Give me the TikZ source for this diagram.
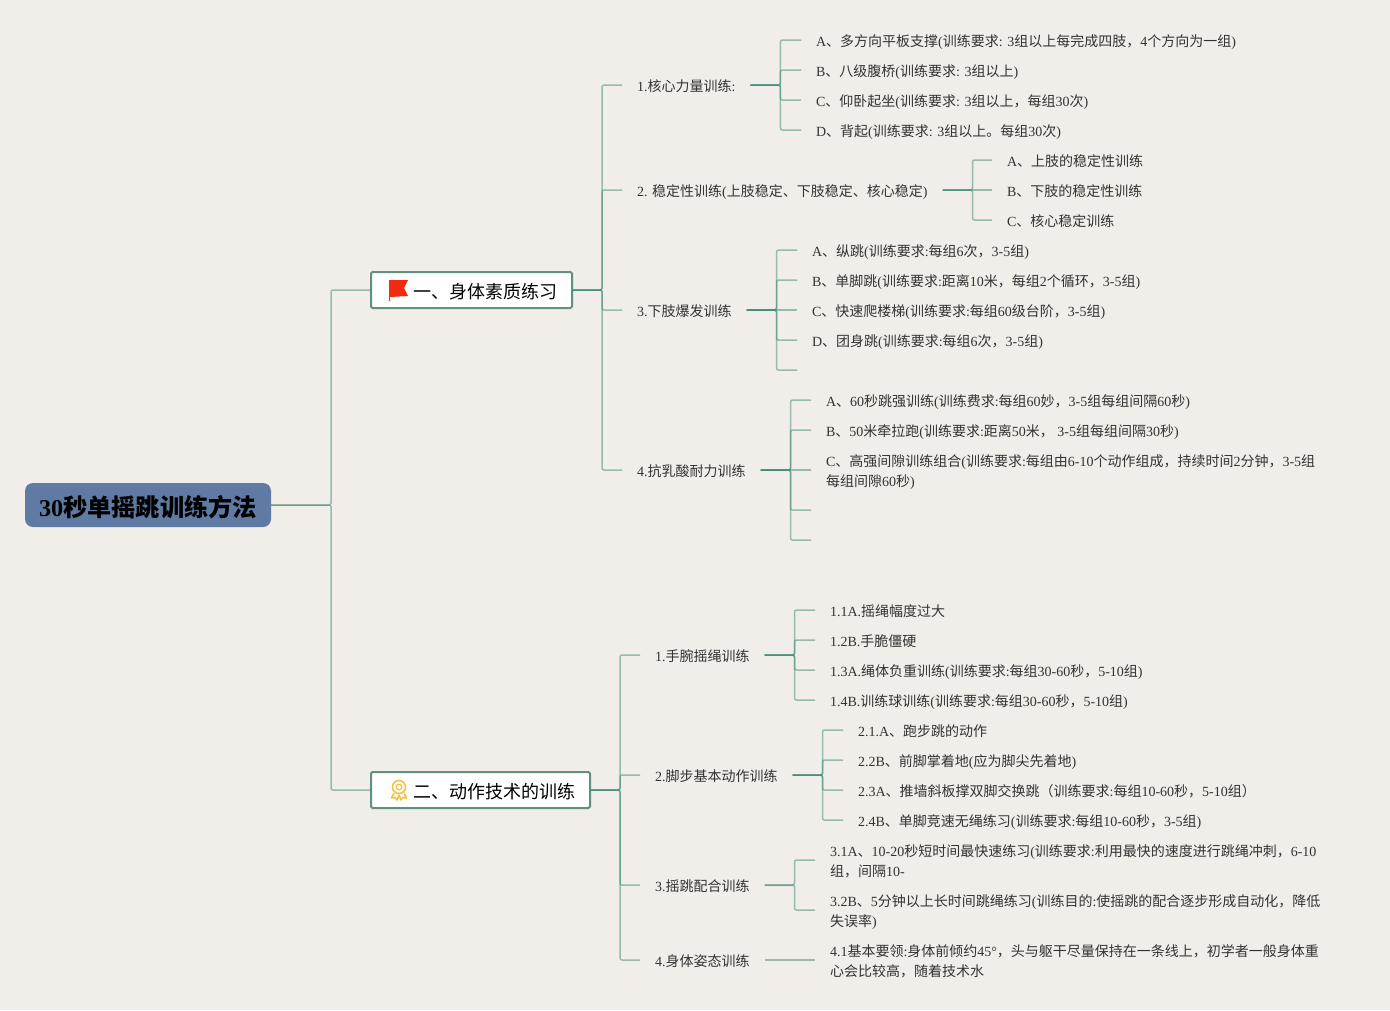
\documentclass[tikz,border=0pt]{standalone}
\usepackage{fontspec}
\setmainfont{Liberation Serif}
\newfontfamily\cjkfont{Noto Sans CJK SC}
\definecolor{paper}{HTML}{F1EDE8}
\definecolor{teal}{HTML}{3F8A6F}
\definecolor{boxline}{HTML}{5F9080}
\definecolor{rootblue}{HTML}{5F7AA3}
\definecolor{inkgray}{HTML}{333333}
\definecolor{flagred}{HTML}{F02B0F}
\definecolor{medal}{HTML}{F5C242}
\newXeTeXintercharclass\cjkclass
\newcount\cjkchar
\cjkchar="3000 \loop\ifnum\cjkchar<"3040 \XeTeXcharclass\cjkchar=\cjkclass \advance\cjkchar 1 \repeat
\cjkchar="4E00 \loop\ifnum\cjkchar<"A000 \XeTeXcharclass\cjkchar=\cjkclass \advance\cjkchar 1 \repeat
\cjkchar="FF00 \loop\ifnum\cjkchar<"FFF0 \XeTeXcharclass\cjkchar=\cjkclass \advance\cjkchar 1 \repeat
\XeTeXinterchartokenstate=1
\XeTeXinterchartoks 0 \cjkclass={\cjkfont}
\XeTeXinterchartoks 4095 \cjkclass={\cjkfont}
\XeTeXinterchartoks \cjkclass 0={\rmfamily}
\XeTeXinterchartoks \cjkclass 4095={\rmfamily}
\XeTeXinterchartoks 4095 0={\rmfamily}
\begin{document}
\begin{tikzpicture}[x=1pt,y=-1pt,
stem/.style={draw=teal,draw opacity=0.5,line width=1.5pt,rounded corners=2pt},
rootnode/.style={fill=rootblue,rounded corners=8pt,minimum width=246pt,minimum height=44pt,inner sep=0pt,outer sep=0pt,text height=25pt,text depth=2pt,font=\fontsize{24.2}{28}\selectfont\bfseries,anchor=west},
topicbox/.style={draw=boxline,fill=white,line width=2pt,rounded corners=1.5pt,minimum height=36pt,inner xsep=15pt,inner ysep=0pt,outer sep=0pt,text height=18pt,text depth=2pt,align=right,anchor=west,text=black,font=\fontsize{18}{22}\selectfont},
lbl/.style={anchor=west,inner xsep=15pt,inner ysep=0pt,outer sep=0pt,text=inkgray,font=\fontsize{14}{20}\selectfont},
leaf/.style={lbl,text height=15pt,text depth=2pt},
leafwrap/.style={lbl,align=left,text height=35pt,text depth=2pt}]
\fill[paper] (0,0) rectangle (1390,1010);
\useasboundingbox (0,0) rectangle (1390,1010);
\node[rootnode] (root) at (25,505) {30秒单摇跳训练方法};
\node[topicbox,text width=171pt] (t1) at (371,290) {一、身体素质练习};
\node[topicbox,text width=189pt] (t2) at (371,790) {二、动作技术的训练};
\node[leaf] (s1) at (622,85) {1.核心力量训练:};
\node[leaf] (s2) at (622,190) {2. 稳定性训练(上肢稳定、下肢稳定、核心稳定)};
\node[leaf] (s3) at (622,310) {3.下肢爆发训练};
\node[leaf] (s4) at (622,470) {4.抗乳酸耐力训练};
\node[leaf] (s5) at (640,655) {1.手腕摇绳训练};
\node[leaf] (s6) at (640,775) {2.脚步基本动作训练};
\node[leaf] (s7) at (640,885) {3.摇跳配合训练};
\node[leaf] (s8) at (640,960) {4.身体姿态训练};
\node[leaf] (s1a) at (801,40) {A、多方向平板支撑(训练要求: 3组以上每完成四肢，4个方向为一组)};
\node[leaf] (s1b) at (801,70) {B、八级腹桥(训练要求: 3组以上)};
\node[leaf] (s1c) at (801,100) {C、仰卧起坐(训练要求: 3组以上，每组30次)};
\node[leaf] (s1d) at (801,130) {D、背起(训练要求: 3组以上。每组30次)};
\node[leaf] (s2a) at (992,160) {A、上肢的稳定性训练};
\node[leaf] (s2b) at (992,190) {B、下肢的稳定性训练};
\node[leaf] (s2c) at (992,220) {C、核心稳定训练};
\node[leaf] (s3a) at (797,250) {A、纵跳(训练要求:每组6次，3-5组)};
\node[leaf] (s3b) at (797,280) {B、单脚跳(训练要求:距离10米，每组2个循环，3-5组)};
\node[leaf] (s3c) at (797,310) {C、快速爬楼梯(训练要求:每组60级台阶，3-5组)};
\node[leaf] (s3d) at (797,340) {D、团身跳(训练要求:每组6次，3-5组)};
\coordinate (s3e) at (797,370);
\node[leaf] (s4a) at (811,400) {A、60秒跳强训练(训练费求:每组60妙，3-5组每组间隔60秒)};
\node[leaf] (s4b) at (811,430) {B、50米牵拉跑(训练要求:距离50米， 3-5组每组间隔30秒)};
\node[leafwrap] (s4c) at (811,470) {C、高强间隙训练组合(训练要求:每组由6-10个动作组成，持续时间2分钟，3-5组\\每组间隙60秒)};
\coordinate (s4d) at (811,510);
\coordinate (s4e) at (811,540);
\node[leaf] (s5a) at (815,610) {1.1A.摇绳幅度过大};
\node[leaf] (s5b) at (815,640) {1.2B.手脆僵硬};
\node[leaf] (s5c) at (815,670) {1.3A.绳体负重训练(训练要求:每组30-60秒，5-10组)};
\node[leaf] (s5d) at (815,700) {1.4B.训练球训练(训练要求:每组30-60秒，5-10组)};
\node[leaf] (s6a) at (843,730) {2.1.A、跑步跳的动作};
\node[leaf] (s6b) at (843,760) {2.2B、前脚掌着地(应为脚尖先着地)};
\node[leaf] (s6c) at (843,790) {2.3A、推墙斜板撑双脚交换跳（训练要求:每组10-60秒，5-10组）};
\node[leaf] (s6d) at (843,820) {2.4B、单脚竞速无绳练习(训练要求:每组10-60秒，3-5组)};
\node[leafwrap] (s7a) at (815,860) {3.1A、10-20秒短时间最快速练习(训练要求:利用最快的速度进行跳绳冲刺，6-10\\组，间隔10-};
\node[leafwrap] (s7b) at (815,910) {3.2B、5分钟以上长时间跳绳练习(训练目的:使摇跳的配合逐步形成自动化，降低\\失误率)};
\node[leafwrap] (s8a) at (815,960) {4.1基本要领:身体前倾约45°，头与躯干尽量保持在一条线上，初学者一般身体重\\心会比较高，随着技术水};
\foreach \n in {t1,t2} {
   \draw[stem] (root.east) -- ++(60,0) |- (\n.west);
}
\foreach \n in {s1,s2,s3,s4} {
   \draw[stem] (t1.east) -- ++(30,0) |- (\n.west);
}
\foreach \n in {s5,s6,s7,s8} {
   \draw[stem] (t2.east) -- ++(30,0) |- (\n.west);
}
\foreach \p/\k in {s1/a,s1/b,s1/c,s1/d,s2/a,s2/c,s3/a,s3/b,s3/d,s3/e,s4/a,s4/b,s4/d,s4/e,s5/a,s5/b,s5/c,s5/d,s6/a,s6/b,s6/c,s6/d,s7/a,s7/b} {
   \draw[stem] (\p.east) -- ++(30,0) |- (\p\k.west);
}
\foreach \p/\k in {s2/b,s3/c,s4/c,s8/a} {
   \draw[stem] (\p.east) to[out=0,in=180] (\p\k.west);
}
\fill[flagred] (389,280) -- (408,280) -- (404,288) -- (408,296) -- (390,297) -- (390,301) -- (389,301) -- cycle;
\draw[medal,line width=1.6pt] (399,787) circle (6.5);
\draw[medal,line width=1.3pt] (399,787) circle (2.8);
\draw[medal,line width=1.6pt,line join=round] (394,793) -- (391.5,798) -- (395,797.5) -- (397,800) -- (399,795) -- (401,800) -- (403,797.5) -- (406.5,798) -- (404,793);
\end{tikzpicture}
\end{document}
